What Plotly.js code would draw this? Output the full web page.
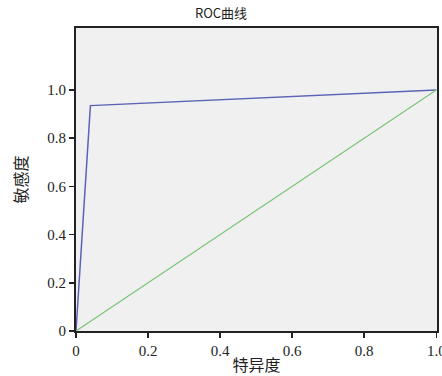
<!DOCTYPE html>
<html><head><meta charset="utf-8">
<script src="https://cdn.plot.ly/plotly-3.0.1.min.js"></script>
<style>body{margin:0;background:#fff}</style>
</head><body><div id="c" style="width:442px;height:376px"></div>
<script>
const rocX = [0, 0.04, 1.0];
const rocY = [0, 0.935, 1.0];
const refX = [0, 1];
const refY = [0, 1];
const tickVals = [0, 0.2, 0.4, 0.6, 0.8, 1.0];
const tickText = ['0', '0.2', '0.4', '0.6', '0.8', '1.0'];
const serif = '"Liberation Serif", "Noto Sans CJK SC", serif';
const cjk = '"Noto Sans CJK SC", "Liberation Serif", serif';
Plotly.newPlot('c', [
  {x: rocX, y: rocY, mode: 'lines', line: {color: '#5a63b5', width: 1.5}, hoverinfo: 'skip', cliponaxis: false},
  {x: refX, y: refY, mode: 'lines', line: {color: '#7cc47c', width: 1.2}, hoverinfo: 'skip'}
], {
  width: 442, height: 376,
  margin: {l: 76, r: 5, t: 28, b: 45},
  paper_bgcolor: '#ffffff', plot_bgcolor: '#f0f0f0',
  showlegend: false,
  title: {text: 'ROC曲线', font: {family: cjk, size: 13, color: '#222'}, x: 0.5, xanchor: 'center', y: 0.965, yanchor: 'middle'},
  xaxis: {range: [0, 1.002], tickvals: tickVals, ticktext: tickText, ticks: 'outside', ticklen: 5, tickwidth: 1.5, tickcolor: '#222',
    ticklabeloverflow: 'allow',
    showline: true, linecolor: '#222', linewidth: 2, mirror: true, showgrid: false, zeroline: false,
    tickfont: {family: serif, size: 15, color: '#222'},
    title: {text: '特异度', font: {family: cjk, size: 16, color: '#222'}, standoff: 2}},
  yaxis: {range: [0, 1.257], tickvals: tickVals, ticktext: tickText, ticks: 'outside', ticklen: 5, tickwidth: 1.5, tickcolor: '#222',
    showline: true, linecolor: '#222', linewidth: 2, mirror: true, showgrid: false, zeroline: false,
    tickfont: {family: serif, size: 15, color: '#222'},
    title: {text: '敏感度', font: {family: cjk, size: 16, color: '#222'}, standoff: 16}}
}, {displayModeBar: false, staticPlot: true});
</script></body></html>
